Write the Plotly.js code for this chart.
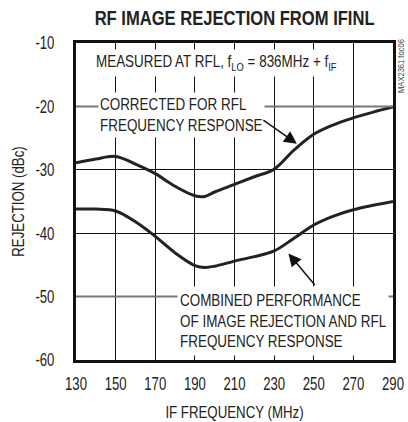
<!DOCTYPE html>
<html>
<head>
<meta charset="utf-8">
<script src="https://cdn.plot.ly/plotly-3.0.1.min.js"></script>
<style>html,body{margin:0;padding:0;background:#fff;}#chart{width:408px;height:422px;}</style>
</head>
<body>
<div id="chart"></div>
<script>
// Data
const ifFreq = [130, 140, 150, 160, 170, 180, 190, 195, 200, 210, 220, 230, 240, 250, 260, 270, 280, 290];
const correctedRej = [-28.9, -28.3, -27.9, -29.1, -30.6, -32.6, -34.1, -34.2, -33.5, -32.3, -31.1, -29.9, -26.9, -24.4, -22.9, -21.8, -20.9, -20.1];
const combinedRej = [-36.2, -36.2, -36.5, -38.2, -40.5, -43.1, -45.1, -45.4, -45.2, -44.4, -43.7, -42.8, -40.8, -38.7, -37.3, -36.3, -35.6, -35.0];
const xTicks = [130, 150, 170, 190, 210, 230, 250, 270, 290];
const yTicks = [-10, -20, -30, -40, -50, -60];

const FONT = '"Liberation Sans", Arial, sans-serif';
const INK = '#222';

const traces = [
  {x: ifFreq, y: correctedRej, mode: 'lines', name: 'Corrected for RFL frequency response',
   line: {color: INK, width: 3, shape: 'spline', smoothing: 1}, hoverinfo: 'x+y'},
  {x: ifFreq, y: combinedRej, mode: 'lines', name: 'Combined performance',
   line: {color: INK, width: 3, shape: 'spline', smoothing: 1}, hoverinfo: 'x+y'}
];

const textFont = {family: FONT, size: 16, color: INK};

const layout = {
  width: 408, height: 422,
  margin: {l: 76, r: 15, t: 43, b: 62},
  paper_bgcolor: '#fff', plot_bgcolor: '#fff',
  showlegend: false,
  font: {family: FONT, size: 16, color: INK},
  title: {text: '<b>RF IMAGE REJECTION FROM IFINL</b>', font: {family: FONT, size: 21, color: INK},
          x: 0.575, xanchor: 'center', y: 0.958, yanchor: 'middle'},
  xaxis: {
    range: [130, 290], tickvals: xTicks, ticktext: xTicks.map(String),
    showgrid: true, gridcolor: '#111', gridwidth: 1, zeroline: false,
    showline: true, mirror: true, linecolor: '#111', linewidth: 3,
    ticks: '', ticklabelstandoff: 5, ticklabeloverflow: 'allow',
    tickfont: {family: FONT, size: 18, color: INK},
    title: {text: 'IF FREQUENCY (MHz)', font: {family: FONT, size: 17, color: INK}, standoff: 15}
  },
  yaxis: {
    range: [-60, -10], tickvals: yTicks, ticktext: yTicks.map(String),
    showgrid: true, gridcolor: '#111', gridwidth: 1, zeroline: false,
    showline: true, mirror: true, linecolor: '#111', linewidth: 3,
    ticks: '', ticklabelstandoff: 15, ticklabeloverflow: 'allow',
    tickfont: {family: FONT, size: 18, color: INK},
    title: {text: 'REJECTION (dBc)', font: {family: FONT, size: 17, color: INK}, standoff: 0}
  },
  shapes: [
    {type: 'line', xref: 'paper', x0: 0, x1: 1, yref: 'y', y0: -20, y1: -20, line: {color: '#777', width: 2}, layer: 'above'},
    {type: 'line', xref: 'paper', x0: 0, x1: 1, yref: 'y', y0: -50, y1: -50, line: {color: '#777', width: 2}, layer: 'above'}
  ],
  annotations: [
    {text: 'MEASURED AT RFL, f<sub>LO</sub> = 836MHz + f<sub>IF</sub>', xref: 'x', yref: 'y', x: 139.6, y: -13.15,
     xanchor: 'left', yanchor: 'middle', align: 'left', width: 242, height: 26,
     showarrow: false, bgcolor: '#fff', borderpad: 0, font: textFont},
    {text: 'CORRECTED FOR RFL<br>FREQUENCY RESPONSE', xref: 'x', yref: 'y', x: 141.1, y: -21.4,
     xanchor: 'left', yanchor: 'middle', align: 'left', width: 163, height: 42,
     showarrow: false, bgcolor: '#fff', borderpad: 1, font: textFont},
    {text: 'COMBINED PERFORMANCE<br>OF IMAGE REJECTION AND RFL<br>FREQUENCY RESPONSE', xref: 'x', yref: 'y', x: 181.0, y: -53.8,
     xanchor: 'left', yanchor: 'middle', align: 'left', width: 206, height: 64,
     showarrow: false, bgcolor: '#fff', borderpad: 2, font: textFont},
    {text: '', xref: 'x', yref: 'y', x: 241.5, y: -25.9, axref: 'x', ayref: 'y', ax: 223.8, ay: -22.0,
     showarrow: true, arrowhead: 2, arrowsize: 1.7, arrowwidth: 1.5, arrowcolor: '#111'},
    {text: '', xref: 'x', yref: 'y', x: 237.2, y: -43.2, axref: 'x', ayref: 'y', ax: 251.2, ay: -48.4,
     showarrow: true, arrowhead: 2, arrowsize: 1.7, arrowwidth: 1.5, arrowcolor: '#111'},
    {text: 'MAX2361 toc06', xref: 'paper', yref: 'paper', x: 1.025, y: 0.927, textangle: -90,
     xanchor: 'center', yanchor: 'middle', showarrow: false, font: {family: FONT, size: 9, color: '#444'}}
  ]
};

// Narrow the glyphs horizontally to imitate the condensed face of the reference
function squeeze(selector, factor) {
  document.querySelectorAll(selector).forEach(function (t) {
    if (t.hasAttribute('clip-path')) t.removeAttribute('clip-path');
    const hasSub = t.querySelector('tspan:not(.line)') && !t.querySelector('tspan.line');
    if (hasSub) {
      // single line with sub/superscripts: scale the whole text around its start
      const x0 = parseFloat(t.getAttribute('x')) || 0;
      const prev = t.getAttribute('transform') || '';
      t.setAttribute('transform', prev + ' translate(' + (x0 * (1 - factor)).toFixed(2) + ',0) scale(' + factor + ',1)');
      return;
    }
    const lines = t.querySelectorAll('tspan.line');
    const targets = lines.length ? Array.from(lines) : [t];
    targets.forEach(function (el) {
      const w = el.getComputedTextLength();
      if (w > 0) {
        el.setAttribute('textLength', (w * factor).toFixed(2));
        el.setAttribute('lengthAdjust', 'spacingAndGlyphs');
      }
    });
  });
}

Plotly.newPlot('chart', traces, layout, {displayModeBar: false, staticPlot: true}).then(function () {
  squeeze('.xtick text', 0.73);
  squeeze('.ytick text', 0.73);
  squeeze('.g-gtitle text', 0.79);
  squeeze('.g-xtitle text', 0.78);
  squeeze('.g-ytitle text', 0.78);
  squeeze('.annotation-text', 0.84);
});
</script>
</body>
</html>
